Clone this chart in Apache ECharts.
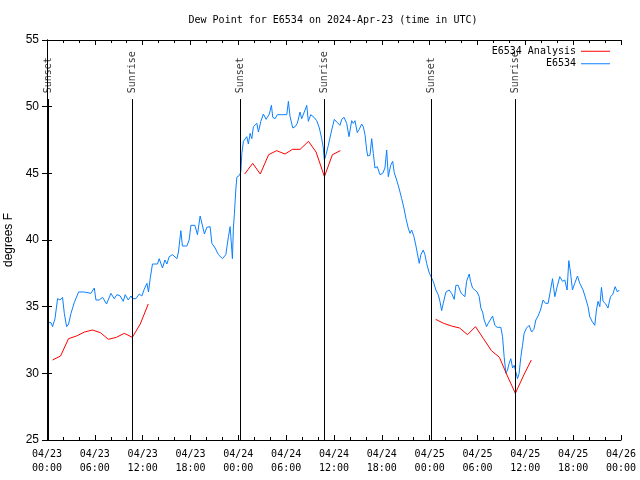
<!DOCTYPE html>
<html>
<head>
<meta charset="utf-8">
<script src="https://cdn.jsdelivr.net/npm/echarts@6/dist/echarts.min.js"></script>
<style>html,body{margin:0;padding:0;background:#fff}#c{width:640px;height:480px}</style>
</head>
<body>
<div id="c"></div>
<script>
// hours since 2024-04-23 00:00 UTC
var blueHours = [0.16,0.50,0.70,1.00,1.33,1.63,1.95,2.17,2.46,2.71,3.01,3.42,3.96,4.67,5.51,5.93,6.14,6.55,6.97,7.47,8.02,8.43,8.77,9.19,9.56,9.81,10.19,10.53,10.73,11.15,11.57,11.90,12.19,12.53,12.73,12.94,13.23,13.86,14.07,14.49,14.79,15.04,15.33,15.74,16.29,16.49,16.79,16.99,17.54,17.83,18.05,18.55,18.87,19.21,19.46,19.75,20.05,20.46,20.68,21.09,21.50,22.01,22.43,22.76,22.97,23.26,23.38,23.51,23.68,23.81,24.14,24.31,24.44,24.64,24.85,25.06,25.26,25.48,25.69,25.89,26.32,26.52,26.82,27.14,27.48,27.64,27.89,28.15,28.32,28.61,28.90,29.45,30.08,30.28,30.49,30.83,31.12,31.40,31.74,31.95,32.16,32.37,32.58,32.78,33.08,33.50,33.83,34.16,34.46,34.66,34.79,35.00,35.29,35.71,36.04,36.42,36.75,36.97,37.26,37.59,37.88,38.22,38.42,38.63,38.92,39.17,39.47,39.67,39.89,40.10,40.23,40.51,40.73,40.93,41.14,41.43,41.77,42.11,42.39,42.61,42.81,43.11,43.36,43.56,43.86,44.15,44.49,44.77,45.03,45.31,45.53,45.74,46.03,46.28,46.49,46.69,46.90,47.19,47.41,47.62,47.91,48.16,48.45,48.78,49.07,49.29,49.50,49.70,50.04,50.45,50.75,51.08,51.29,51.58,51.88,52.13,52.42,52.63,52.96,53.13,53.38,53.67,53.96,54.21,54.42,54.64,54.84,55.14,55.34,55.55,55.89,56.18,56.47,56.72,56.93,57.14,57.34,57.56,57.77,57.97,58.18,58.40,58.60,58.81,59.02,59.22,59.44,59.65,59.85,60.15,60.48,60.78,61.07,61.32,61.60,61.90,62.23,62.53,62.86,63.16,63.41,63.70,63.99,64.32,64.66,64.95,65.24,65.45,65.66,65.91,66.20,66.54,66.83,67.24,67.58,67.87,68.08,68.37,68.71,68.92,69.12,69.34,69.55,69.75,70.09,70.37,70.68,70.96,71.26,71.55,71.78];
var blueValues = [33.8,33.8,33.5,34.1,35.6,35.5,35.7,34.5,33.5,33.7,34.5,35.3,36.1,36.1,36.0,36.4,35.5,35.5,35.7,35.2,36.0,35.6,35.9,35.8,35.4,35.9,35.5,35.8,35.6,35.6,35.95,35.8,36.3,36.75,36.1,37.1,38.2,38.2,38.6,37.9,38.5,38.2,38.75,38.9,38.6,39.1,40.7,39.55,39.55,40.0,41.1,41.1,40.4,41.8,41.8,40.45,40.95,41.0,39.75,39.4,38.9,38.6,38.9,40.25,41.0,38.6,40.9,42.0,43.75,44.7,44.85,45.1,46.5,47.4,47.3,47.75,47.2,48.0,47.6,48.5,48.75,48.1,48.9,49.45,49.05,48.9,49.45,50.1,49.2,49.1,49.4,49.4,49.4,50.4,49.25,48.4,48.5,48.75,49.6,49.1,49.25,49.75,50.1,48.9,49.4,49.2,48.95,48.4,47.6,46.9,46.0,46.4,47.1,48.25,49.05,48.8,48.6,49.05,49.2,48.75,47.75,48.95,48.75,48.95,48.05,48.3,48.7,48.5,47.9,46.75,46.3,46.35,47.6,46.5,45.4,45.5,44.9,45.0,45.4,46.75,44.75,45.6,45.9,45.05,44.5,43.9,43.1,42.4,41.6,40.9,40.5,40.75,40.25,39.55,39.5,38.25,38.9,39.25,38.9,38.25,37.6,37.25,36.9,36.25,35.9,35.4,34.7,35.25,36.1,36.25,36.0,35.55,36.6,36.6,36.1,35.9,35.75,36.9,37.45,36.9,36.4,36.25,36.1,35.75,34.9,34.6,34.0,33.5,33.75,33.9,34.3,33.6,33.45,33.6,33.45,32.75,31.25,30.0,30.25,30.75,31.1,30.4,30.6,30.1,29.6,30.0,31.25,32.1,33.0,33.4,33.6,33.1,33.3,34.0,34.3,34.75,35.5,35.25,35.25,36.25,37.1,35.75,36.5,37.25,36.9,37.0,36.25,38.45,37.6,36.25,36.75,37.3,36.75,36.25,35.6,35.0,34.25,33.9,33.6,34.75,35.4,35.0,36.45,35.4,35.2,34.9,35.75,35.9,36.5,36.1,36.25];

var redHours = [0.7,1.7,2.7,3.7,4.7,5.7,6.7,7.7,8.7,9.7,10.7,11.7,12.7, null,
                24.8,25.8,26.75,27.8,28.8,29.85,30.8,31.75,32.8,33.75,34.8,35.8,36.8, null,
                48.75,49.75,50.75,51.75,52.75,53.75,54.75,55.75,56.75,57.75,58.75,59.75,60.75];
var redValues = [31.0,31.3,32.6,32.8,33.1,33.25,33.05,32.55,32.7,33.0,32.7,33.7,35.2, null,
                 44.95,45.75,44.95,46.4,46.7,46.45,46.8,46.8,47.4,46.6,44.75,46.4,46.7, null,
                 34.05,33.75,33.55,33.4,32.9,33.5,32.6,31.7,31.2,29.8,28.5,29.8,31.0];

var sunHours = [0.2, 10.7, 24.2, 34.78, 48.17, 58.7];
var sunLabels = ['Sunset','Sunrise','Sunset','Sunrise','Sunset','Sunrise'];

var yTicks = [25,30,35,40,45,50,55];
var xTickDays = ['04/23','04/24','04/25','04/26'];

var mono = 'DejaVu Sans Mono';
var sans = 'Liberation Sans';

var blueData = blueHours.map(function(h,i){return [h, blueValues[i]];});
var redData = redHours.map(function(h,i){return h === null ? ['-','-'] : [h, redValues[i]];});
var sunLines = sunHours.map(function(h){return [{coord:[h,25]},{coord:[h,50.57]}];});
var sunText = sunHours.map(function(h,i){return {value:[h,51.0], name:sunLabels[i]};});

function xLabel(v){
  var d = Math.floor(v/24), hr = Math.round(v - d*24);
  return xTickDays[d] + '\n' + (hr<10?'0':'') + hr + ':00';
}

var chart = echarts.init(document.getElementById('c'), null, {renderer:'canvas'});
chart.setOption({
  animation:false,
  backgroundColor:'#ffffff',
  title:{text:'Dew Point for E6534 on 2024-Apr-23 (time in UTC)', left:328, top:9, textAlign:'center',
    textStyle:{fontFamily:mono, fontSize:10, fontWeight:'normal', color:'#000', lineHeight:12}},
  legend:{data:['E6534 Analysis','E6534'], orient:'vertical', right:25, top:40, align:'right',
    icon:'rect', itemWidth:29, itemHeight:1, itemGap:0,
    textStyle:{fontFamily:mono, fontSize:10, color:'#000', lineHeight:12.5}},
  grid:{left:47, right:19, top:40, bottom:40, containLabel:false, outerBoundsMode:'none'},
  xAxis:[{type:'value', min:0, max:72, interval:6, position:'bottom',
      axisLine:{lineStyle:{color:'#000', width:1}},
      axisTick:{inside:true, length:5, lineStyle:{color:'#000'}},
      minorTick:{show:true, splitNumber:3, length:3, lineStyle:{color:'#000'}},
      splitLine:{show:false},
      axisLabel:{formatter:xLabel, fontFamily:mono, fontSize:10, color:'#000', lineHeight:14, margin:7}},
    {type:'value', min:0, max:72, interval:6, position:'top',
      axisLine:{lineStyle:{color:'#000', width:1}},
      axisTick:{inside:true, length:5, lineStyle:{color:'#000'}},
      minorTick:{show:true, splitNumber:3, length:3, lineStyle:{color:'#000'}},
      splitLine:{show:false}, axisLabel:{show:false}}],
  yAxis:[{type:'value', min:yTicks[0], max:yTicks[yTicks.length-1], interval:5, position:'left',
      name:'degrees F', nameLocation:'middle', nameRotate:90, nameGap:28,
      nameTextStyle:{fontFamily:sans, fontSize:12, color:'#000'},
      axisLine:{show:true, lineStyle:{color:'#000', width:1}},
      axisTick:{show:true, inside:true, length:5, lineStyle:{color:'#000'}},
      splitLine:{show:false},
      axisLabel:{fontFamily:sans, fontSize:12, color:'#000', margin:8}},
    {type:'value', min:yTicks[0], max:yTicks[yTicks.length-1], interval:5, position:'right',
      axisLine:{show:true, lineStyle:{color:'#000', width:1}},
      axisTick:{show:true, inside:true, length:5, lineStyle:{color:'#000'}},
      splitLine:{show:false}, axisLabel:{show:false}}],
  series:[
    {name:'E6534 Analysis', type:'line', data:redData, showSymbol:false, connectNulls:false,
      lineStyle:{color:'#ff0000', width:1}, itemStyle:{color:'#ff0000'}, z:3},
    {name:'E6534', type:'line', data:blueData, showSymbol:false,
      lineStyle:{color:'#0a80ff', width:1}, itemStyle:{color:'#0a80ff'}, z:2,
      markLine:{silent:true, symbol:['none','none'], label:{show:false},
        lineStyle:{color:'#000', width:1, type:'solid'}, data:sunLines}},
    {name:'sun', type:'scatter', data:sunText, symbolSize:0, silent:true, z:4,
      label:{show:true, formatter:'{b}', position:'inside', rotate:90, align:'left', verticalAlign:'middle',
        fontFamily:mono, fontSize:10, color:'#000'}}
  ]
});
</script>
</body>
</html>
